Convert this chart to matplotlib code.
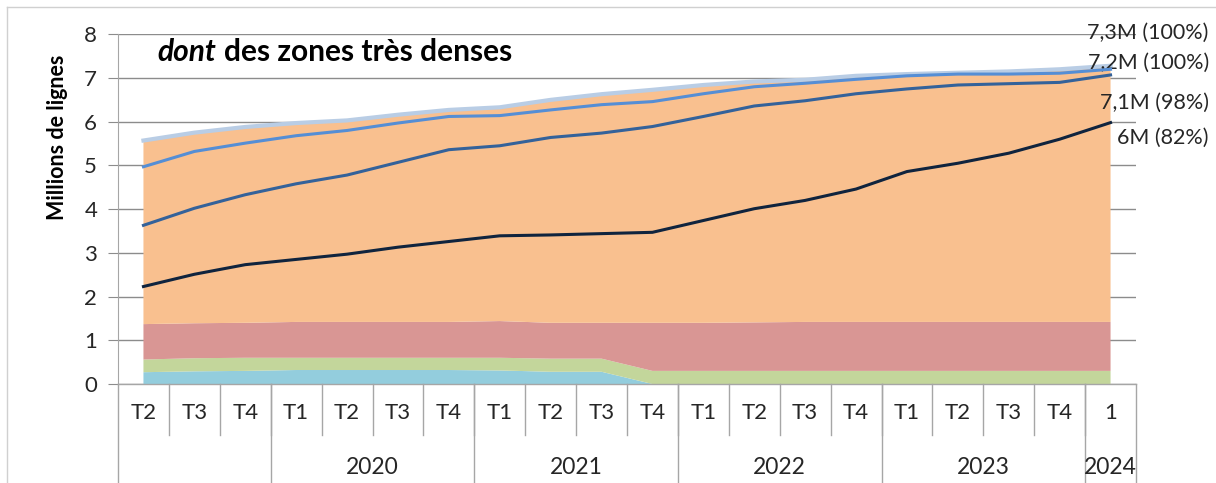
import matplotlib.pyplot as plt
from matplotlib.lines import Line2D
import numpy as np

plt.rcParams["font.family"] = ["Lato", "DejaVu Sans"]

cats = ["T2", "T3", "T4", "T1", "T2", "T3", "T4", "T1", "T2", "T3", "T4",
        "T1", "T2", "T3", "T4", "T1", "T2", "T3", "T4", "1"]
years = ["", "2020", "2021", "2022", "2023", "2024"]
year_sizes = [3, 4, 4, 4, 4, 1]

# stacked layers (millions of lines)
layer_blue = [0.27, 0.29, 0.30, 0.32, 0.32, 0.32, 0.32, 0.31, 0.28, 0.28,
              0, 0, 0, 0, 0, 0, 0, 0, 0, 0]
layer_green = [0.29, 0.30, 0.30, 0.28, 0.28, 0.28, 0.28, 0.29, 0.30, 0.30,
               0.30, 0.30, 0.30, 0.30, 0.30, 0.30, 0.30, 0.30, 0.30, 0.30]
layer_pink = [0.81, 0.80, 0.80, 0.82, 0.82, 0.82, 0.82, 0.84, 0.82, 0.82,
              1.10, 1.10, 1.11, 1.12, 1.12, 1.12, 1.12, 1.12, 1.12, 1.12]
total = [5.57, 5.75, 5.88, 5.97, 6.03, 6.16, 6.27, 6.33, 6.50, 6.63,
         6.73, 6.84, 6.92, 6.96, 7.05, 7.09, 7.12, 7.15, 7.20, 7.28]

# coverage lines
line_72 = [4.97, 5.32, 5.51, 5.68, 5.80, 5.97, 6.12, 6.14, 6.27, 6.39,
           6.46, 6.64, 6.80, 6.88, 6.97, 7.05, 7.09, 7.09, 7.11, 7.20]
line_71 = [3.63, 4.02, 4.33, 4.58, 4.78, 5.07, 5.36, 5.45, 5.64, 5.74,
           5.89, 6.12, 6.36, 6.48, 6.64, 6.75, 6.84, 6.87, 6.90, 7.07]
line_6 = [2.23, 2.51, 2.73, 2.85, 2.97, 3.13, 3.26, 3.39, 3.41, 3.44,
          3.47, 3.74, 4.01, 4.20, 4.46, 4.86, 5.05, 5.28, 5.60, 5.98]
end_labels = ["7,3M (100%)", "7,2M (100%)", "7,1M (98%)", "6M (82%)"]

x = np.arange(len(cats))
lower = np.array(layer_blue) + np.array(layer_green) + np.array(layer_pink)
layer_orange = np.array(total) - lower

fig = plt.figure(figsize=(12.16, 4.83), dpi=100)
ax = fig.add_axes([118 / 1216, 99 / 483, 1018 / 1216, 349.7 / 483])

ax.stackplot(x, layer_blue, layer_green, layer_pink, layer_orange,
             colors=["#93cddd", "#c3d69b", "#d99694", "#f9c08f"], lw=0, zorder=2)
ax.plot(x, total, color="#b9cde5", lw=3, zorder=3)
ax.plot(x, line_72, color="#558ed5", lw=2.2, zorder=4)
ax.plot(x, line_71, color="#34629a", lw=2.2, zorder=4)
ax.plot(x, line_6, color="#10243e", lw=2.2, zorder=4)

ax.set_xlim(-0.5, len(cats) - 0.5)
ax.set_ylim(0, 8)
ax.set_yticks(range(9))
ax.grid(axis="y", color="#8c8c8c", lw=1, zorder=0)
ax.set_axisbelow(True)
for s in ["top", "right", "bottom"]:
    ax.spines[s].set_visible(False)
ax.spines["left"].set_color("#a6a6a6")
ax.tick_params(axis="y", length=7, color="#8c8c8c", pad=8, labelsize=16,
               labelcolor="#262626")
ax.set_xticks(x)
ax.set_xticklabels(cats)
ax.tick_params(axis="x", length=0, pad=14, labelsize=16, labelcolor="#262626")
ax.set_ylabel("Millions de lignes", fontsize=15.5, fontweight="bold")
ax.yaxis.set_label_coords(-0.049, 0.704)

# category table below the plot
gc = "#a6a6a6"
ax.plot([-0.5, len(cats) - 0.5], [0, 0], color=gc, lw=1, clip_on=False)
for i in range(len(cats) - 1):
    ax.plot([i + 0.5, i + 0.5], [0, -1.17], color=gc, lw=1, clip_on=False)
start = 0
for yr, n in zip(years, year_sizes):
    ax.plot([start - 0.5, start - 0.5], [0, -2.3], color=gc, lw=1, clip_on=False)
    ax.text(start + (n - 1) / 2, -1.9, yr, ha="center", va="center",
            fontsize=16.5, color="#262626")
    start += n
ax.plot([start - 0.5, start - 0.5], [0, -2.3], color=gc, lw=1, clip_on=False)

t1 = ax.text(0.27, 7.4, "dont", fontsize=21.5, fontweight="bold",
             fontstyle="italic", va="baseline")
ax.annotate("des zones très denses", xy=(1, 0), xycoords=t1,
            xytext=(6, 0), textcoords="offset points", fontsize=21.5,
            fontweight="bold", va="bottom")

for lab, yy in zip(end_labels, [8.03, 7.35, 6.43, 5.63]):
    ax.text(20.93, yy, lab, ha="right", va="center", fontsize=15.5,
            color="#262626", clip_on=False)

fig.add_artist(Line2D([7 / 1216, 7 / 1216], [0, 476 / 483], color="#d0d0d0", lw=1))
fig.add_artist(Line2D([7 / 1216, 1], [476 / 483, 476 / 483], color="#d0d0d0", lw=1))

fig.savefig("out.png", dpi=100)
